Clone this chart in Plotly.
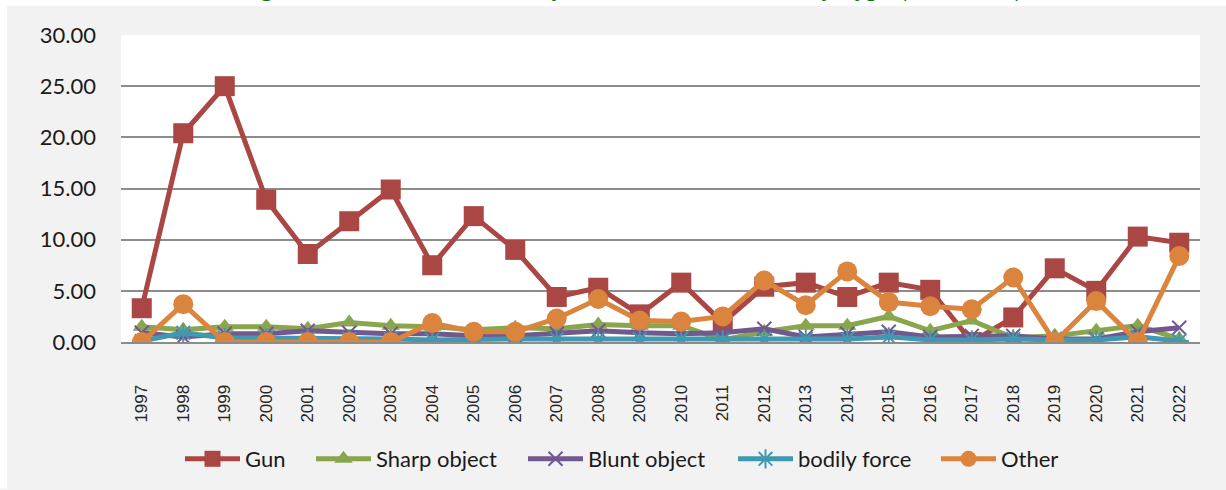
import plotly.graph_objects as go

years = [str(y) for y in range(1997, 2023)]

gun = [3.3, 20.4, 25.0, 13.9, 8.6, 11.8, 14.9, 7.5, 12.3, 9.0, 4.4, 5.3,
       2.7, 5.8, 1.9, 5.4, 5.8, 4.4, 5.8, 5.1, 0.0, 2.4, 7.2, 5.0, 10.3, 9.7]
sharp = [1.5, 1.2, 1.5, 1.5, 1.3, 1.9, 1.6, 1.5, 1.2, 1.4, 1.3, 1.7,
         1.6, 1.6, 0.2, 1.0, 1.6, 1.6, 2.5, 1.1, 2.1, 0.4, 0.6, 1.1, 1.6, 0.3]
blunt = [0.9, 0.5, 0.8, 0.8, 1.1, 0.9, 0.8, 0.8, 0.6, 0.6, 0.8, 1.1,
         0.9, 0.8, 0.9, 1.3, 0.5, 0.8, 1.0, 0.5, 0.6, 0.6, 0.3, 0.3, 1.0, 1.4]
bodily = [0.1, 0.9, 0.4, 0.4, 0.3, 0.3, 0.3, 0.2, 0.3, 0.3, 0.3, 0.3,
          0.3, 0.3, 0.2, 0.3, 0.3, 0.3, 0.5, 0.2, 0.2, 0.3, 0.2, 0.2, 0.5, 0.1]
other = [0.0, 3.7, 0.0, 0.0, 0.0, 0.0, 0.0, 1.85, 1.0, 1.0, 2.3, 4.2,
         2.1, 2.0, 2.5, 6.0, 3.6, 6.9, 3.9, 3.5, 3.2, 6.3, 0.0, 4.0, 0.0, 8.4]

y_ticks = [0, 5, 10, 15, 20, 25, 30]

series = [
    ("Gun", gun, "#AA4643", dict(symbol="square", size=20)),
    ("Sharp object", sharp, "#89A54E", dict(symbol="triangle-up", size=16)),
    ("Blunt object", blunt, "#71588F", dict(symbol="x-thin", size=14,
                                            line=dict(width=2, color="#71588F"))),
    ("bodily force", bodily, "#4198AF", dict(symbol="asterisk", size=16,
                                             line=dict(width=2, color="#4198AF"))),
    ("Other", other, "#DB843D", dict(symbol="circle", size=20)),
]

W, H = 1226, 490
L, R, T, B = 121, 26, 35, 147
pw, ph = W - L - R, H - T - B


def px_x(x):
    return (x - L) / pw


def px_y(y):
    return (H - B - y) / ph


# left edge (in px) of each legend entry along the bottom row
legend_left = [180, 311, 523, 733, 936]

fig = go.Figure()
legend_layout = {}
for i, (name, vals, color, mk) in enumerate(series):
    mk = dict(mk)
    mk["color"] = color
    key = "legend" if i == 0 else f"legend{i + 1}"
    fig.add_trace(go.Scatter(
        x=years, y=vals, name=name, mode="lines+markers",
        line=dict(color=color, width=5), marker=mk, legend=key,
    ))
    legend_layout[key] = dict(
        orientation="h", x=px_x(legend_left[i]), y=px_y(459),
        xanchor="left", yanchor="middle",
        font=dict(family="Lato", size=22, color="#1A1A1A"),
        bgcolor="rgba(0,0,0,0)", itemwidth=55, borderwidth=0,
    )

# white margin strips around the grey chart panel
fig.add_shape(type="rect", xref="paper", yref="paper",
              x0=px_x(0), x1=px_x(W), y0=px_y(6), y1=px_y(0),
              fillcolor="white", line_width=0, layer="below")
fig.add_shape(type="rect", xref="paper", yref="paper",
              x0=px_x(0), x1=px_x(7), y0=px_y(H), y1=px_y(0),
              fillcolor="white", line_width=0, layer="below")

fig.add_annotation(
    text="Figure 3: Homicide Victims by Instrument of Attack, by Type (1997-2022)",
    xref="paper", yref="paper", x=px_x(630), y=px_y(3),
    xanchor="center", yanchor="bottom", showarrow=False, borderpad=0,
    font=dict(family="Liberation Serif", size=25, color="#0B7B0B", weight="bold"),
)

fig.update_layout(
    width=W, height=H,
    margin=dict(l=L, r=R, t=T, b=B, pad=0),
    paper_bgcolor="#F2F2F2",
    plot_bgcolor="white",
    showlegend=True,
    xaxis=dict(
        type="category", tickangle=-90, showgrid=False,
        showline=True, linecolor="#8C8C8C", linewidth=2,
        ticks="", ticklabelstandoff=34,
        tickfont=dict(family="Liberation Sans", size=17, color="#262626"),
        range=[-0.5, len(years) - 0.5],
    ),
    yaxis=dict(
        range=[0, 30], tickvals=y_ticks, tickformat=".2f",
        showgrid=True, gridcolor="#8C8C8C", gridwidth=2,
        zeroline=False, showline=False, ticks="", ticklabelstandoff=24,
        tickfont=dict(family="Lato", size=22, color="#1A1A1A"),
    ),
    **legend_layout,
)

fig.write_html("out.html")
